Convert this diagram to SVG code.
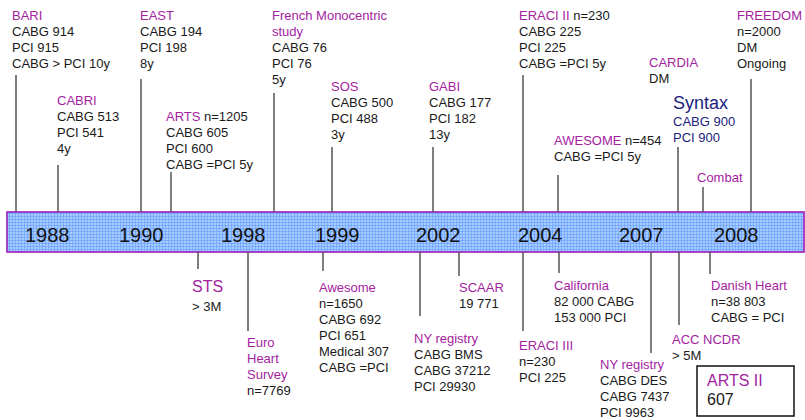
<svg xmlns="http://www.w3.org/2000/svg" width="805" height="420" viewBox="0 0 805 420">
<style>
text{font-family:"Liberation Sans",Arial,sans-serif;font-size:13px;fill:#1a1a1a}
.p{fill:#a3239f}
.n{fill:#1c1c7c}
.yr{font-size:20px;fill:#111}
.big{font-size:16px}
.syn{font-size:18px}
.c line{stroke:#555;stroke-width:1.5}
</style>
<defs>
<pattern id="grid" width="3" height="3" patternUnits="userSpaceOnUse">
<rect width="3" height="3" fill="#a8ccff"/>
<path d="M0 0.5H3M0.5 0V3" stroke="#6fa3ff" stroke-width="0.8"/>
</pattern>
</defs>
<rect width="805" height="420" fill="#fff"/>
<g id="timeline">
<rect x="7" y="212" width="797" height="40" fill="url(#grid)" stroke="#a030c0" stroke-width="1.8"/>
<text class="yr" x="25" y="242">1988</text>
<text class="yr" x="119" y="242">1990</text>
<text class="yr" x="221" y="242">1998</text>
<text class="yr" x="315" y="242">1999</text>
<text class="yr" x="416" y="242">2002</text>
<text class="yr" x="518" y="242">2004</text>
<text class="yr" x="619" y="242">2007</text>
<text class="yr" x="714" y="242">2008</text>
</g>
<g class="c" id="connectors">
<line x1="16" y1="75" x2="16" y2="212"/>
<line x1="58" y1="165" x2="58" y2="212"/>
<line x1="141" y1="79" x2="141" y2="212"/>
<line x1="171" y1="172" x2="171" y2="212"/>
<line x1="274" y1="93" x2="274" y2="212"/>
<line x1="332" y1="147" x2="332" y2="212"/>
<line x1="433" y1="147" x2="433" y2="212"/>
<line x1="523" y1="75" x2="523" y2="212"/>
<line x1="558" y1="175" x2="558" y2="212"/>
<line x1="678" y1="147" x2="678" y2="212"/>
<line x1="703" y1="187" x2="703" y2="212"/>
<line x1="751" y1="79" x2="751" y2="212"/>
<line x1="198" y1="252" x2="198" y2="269"/>
<line x1="248" y1="252" x2="248" y2="331"/>
<line x1="323" y1="252" x2="323" y2="271"/>
<line x1="420" y1="252" x2="420" y2="316"/>
<line x1="459" y1="252" x2="459" y2="276"/>
<line x1="523" y1="252" x2="523" y2="331"/>
<line x1="559" y1="252" x2="559" y2="273"/>
<line x1="651" y1="252" x2="651" y2="353"/>
<line x1="679" y1="252" x2="679" y2="325"/>
<line x1="710" y1="252" x2="710" y2="274"/>
</g>
<g id="bari"><text x="12" y="20" class="p">BARI</text><text x="12" y="36">CABG 914</text><text x="12" y="52">PCI 915</text><text x="12" y="68">CABG &gt; PCI 10y</text></g>
<g id="cabri"><text x="57" y="105" class="p">CABRI</text><text x="57" y="121">CABG 513</text><text x="57" y="137">PCI 541</text><text x="57" y="153">4y</text></g>
<g id="east"><text x="140" y="20" class="p">EAST</text><text x="140" y="36">CABG 194</text><text x="140" y="52">PCI 198</text><text x="140" y="68">8y</text></g>
<g id="arts"><text x="166" y="121"><tspan class="p">ARTS</tspan> n=1205</text><text x="166" y="137">CABG 605</text><text x="166" y="153">PCI 600</text><text x="166" y="169">CABG =PCI 5y</text></g>
<g id="french"><text x="272" y="20" class="p">French Monocentric</text><text x="272" y="36" class="p">study</text><text x="272" y="52">CABG 76</text><text x="272" y="68">PCI 76</text><text x="272" y="84">5y</text></g>
<g id="sos"><text x="331" y="91" class="p">SOS</text><text x="331" y="107">CABG 500</text><text x="331" y="123">PCI 488</text><text x="331" y="139">3y</text></g>
<g id="gabi"><text x="429" y="91" class="p">GABI</text><text x="429" y="107">CABG 177</text><text x="429" y="123">PCI 182</text><text x="429" y="139">13y</text></g>
<g id="eraci2"><text x="519" y="20"><tspan class="p">ERACI II</tspan> n=230</text><text x="519" y="36">CABG 225</text><text x="519" y="52">PCI 225</text><text x="519" y="68">CABG =PCI 5y</text></g>
<g id="cardia"><text x="649" y="67" class="p">CARDIA</text><text x="649" y="83">DM</text></g>
<g id="syntax"><text x="673" y="109" class="n syn">Syntax</text><text x="673" y="126" class="n">CABG 900</text><text x="673" y="142" class="n">PCI 900</text></g>
<g id="awesome"><text x="554" y="145"><tspan class="p">AWESOME</tspan> n=454</text><text x="554" y="161">CABG =PCI 5y</text></g>
<g id="combat"><text x="697" y="182" class="p">Combat</text></g>
<g id="freedom"><text x="737" y="20" class="p">FREEDOM</text><text x="737" y="36">n=2000</text><text x="737" y="52">DM</text><text x="737" y="68">Ongoing</text></g>
<g id="sts"><text x="192" y="292" class="p big">STS</text><text x="192" y="311">&gt; 3M</text></g>
<g id="euro"><text x="247" y="347" class="p">Euro</text><text x="247" y="363" class="p">Heart</text><text x="247" y="379" class="p">Survey</text><text x="247" y="395">n=7769</text></g>
<g id="awesome2"><text x="319" y="292" class="p">Awesome</text><text x="319" y="308">n=1650</text><text x="319" y="324">CABG 692</text><text x="319" y="340">PCI 651</text><text x="319" y="356">Medical 307</text><text x="319" y="372">CABG =PCI</text></g>
<g id="nyreg1"><text x="414" y="343" class="p">NY registry</text><text x="414" y="359">CABG BMS</text><text x="414" y="375">CABG 37212</text><text x="414" y="391">PCI 29930</text></g>
<g id="scaar"><text x="459" y="292" class="p">SCAAR</text><text x="459" y="308">19 771</text></g>
<g id="eraci3"><text x="519" y="350" class="p">ERACI III</text><text x="519" y="366">n=230</text><text x="519" y="382">PCI 225</text></g>
<g id="california"><text x="554" y="290" class="p">California</text><text x="554" y="306">82 000 CABG</text><text x="554" y="322">153 000 PCI</text></g>
<g id="nyreg2"><text x="600" y="369" class="p">NY registry</text><text x="600" y="385">CABG DES</text><text x="600" y="401">CABG 7437</text><text x="600" y="417">PCI 9963</text></g>
<g id="accncdr"><text x="672" y="344" class="p">ACC NCDR</text><text x="672" y="360">&gt; 5M</text></g>
<g id="danish"><text x="711" y="290" class="p">Danish Heart</text><text x="711" y="306">n=38 803</text><text x="711" y="322">CABG = PCI</text></g>
<g id="arts2"><rect x="697" y="366" width="97" height="50" fill="#fff" stroke="#111" stroke-width="1.5"/><text x="707" y="386" class="p big">ARTS II</text><text x="707" y="405" class="big">607</text></g>
</svg>
